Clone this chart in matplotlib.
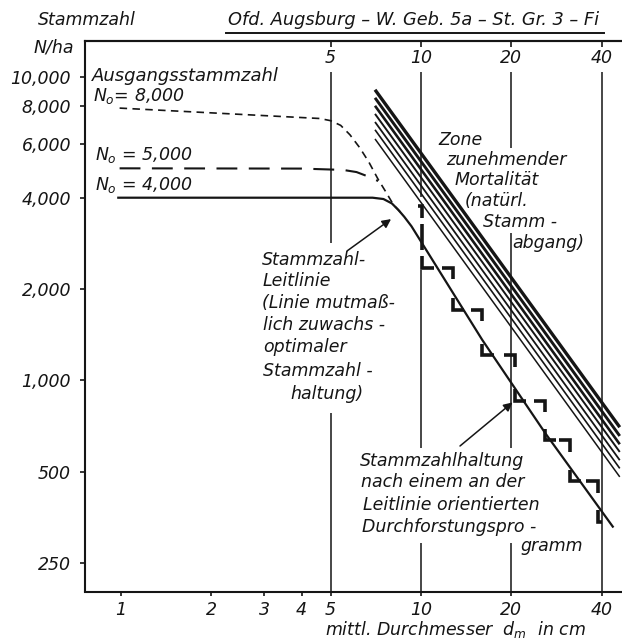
import numpy as np
import matplotlib
matplotlib.use("Agg")
import matplotlib.pyplot as plt
from matplotlib.lines import Line2D
from matplotlib.ticker import FixedLocator, FixedFormatter, NullLocator

# ---------------------------------------------------------------------------
# values
# ---------------------------------------------------------------------------
y_ticks = [250, 500, 1000, 2000, 4000, 6000, 8000, 10000]
y_labels = ["250", "500", "1,000", "2,000", "4,000", "6,000", "8,000", "10,000"]
x_ticks = [1, 2, 3, 4, 5, 10, 20, 40]
x_top_ticks = [5, 10, 20, 40]

# Stammzahl-Leitlinie, starting from N0 = 4000
leit_d = [0.98, 3.0, 6.9, 7.5, 8.0, 8.4, 8.8, 9.3, 16.0, 26.0, 43.6]
leit_n = [4000, 4000, 4000, 3960, 3830, 3650, 3460, 3220, 1360, 668, 329]

# N0 = 8000 (short dashes)
n8_d = [0.99, 4.6, 5.0, 5.4, 5.8, 6.25, 6.7, 7.2, 7.65, 8.1, 8.6]
n8_n = [7900, 7300, 7180, 6930, 6450, 5850, 5250, 4600, 4170, 3790, 3560]

# N0 = 5000 (long dashes)
n5_d = [0.99, 4.0, 5.5, 6.1, 6.7, 7.2]
n5_n = [5000, 4990, 4940, 4860, 4690, 4540]

# zone of increasing mortality: parallel lines
band_d = [7.03, 46.0]
band_start_n = [9080, 8540, 8040, 7560, 7110, 6700, 6250]
band_end_n = [700, 655, 615, 580, 545, 512, 480]
band_lw = [2.4, 2.1, 1.9, 1.4, 1.3, 1.2, 1.1]

# thinning programme (staircase)
stair_start_d = 9.4
stair_cut_d = [10.1, 12.8, 16.0, 20.6, 25.9, 31.4, 38.8]
stair_n = [3750, 2350, 1710, 1210, 855, 634, 464, 342]
stair_end_d = 42.1

# vertical guide lines (broken where text / curves are)
grid_segments = {
    5: [(10400, 2830), (780, 150)],
    10: [(10400, 4020), (2310, 600), (290, 150)],
    20: [(10400, 5830), (3060, 600), (290, 150)],
    40: [(10400, 150)],
}

# ---------------------------------------------------------------------------
W, H = 622, 641
plt.rcParams["font.family"] = "DejaVu Sans"
plt.rcParams["font.style"] = "italic"
plt.rcParams["mathtext.default"] = "it"
INK = "#151515"

fig = plt.figure(figsize=(W / 100, H / 100), dpi=100)
ax = fig.add_axes([85 / W, 1 - 591.5 / H, 1 - 85 / W, (591.5 - 41) / H])
ax.set_xscale("log")
ax.set_yscale("log")
ax.set_xlim(0.759, 46.8)
ax.set_ylim(201, 13150)

for s in ("left", "bottom", "top"):
    ax.spines[s].set_linewidth(1.5)
    ax.spines[s].set_color(INK)
ax.spines["right"].set_visible(False)

ax.yaxis.set_major_locator(FixedLocator(y_ticks))
ax.yaxis.set_major_formatter(FixedFormatter(y_labels))
ax.yaxis.set_minor_locator(NullLocator())
ax.xaxis.set_major_locator(FixedLocator(x_ticks))
ax.xaxis.set_major_formatter(FixedFormatter([str(v) for v in x_ticks]))
ax.xaxis.set_minor_locator(NullLocator())
ax.tick_params(axis="y", direction="out", length=3.5, width=1.2, pad=6.5,
               labelsize=12.5, colors=INK)
ax.tick_params(axis="x", direction="out", length=3, width=1.2, pad=3.8,
               labelsize=12.5, colors=INK)

sec = ax.secondary_xaxis("top")
sec.xaxis.set_major_locator(FixedLocator(x_top_ticks))
sec.xaxis.set_major_formatter(FixedFormatter([str(v) for v in x_top_ticks]))
sec.xaxis.set_minor_locator(NullLocator())
sec.tick_params(direction="in", length=4, width=1.2, pad=-18.5,
                labelsize=12.5, colors=INK)
sec.spines["top"].set_linewidth(1.5)

# guide lines
for gx, segs in grid_segments.items():
    for top, bot in segs:
        ax.plot([gx, gx], [top, bot], color=INK, lw=1.1, solid_capstyle="butt")

# curves
ax.plot(leit_d, leit_n, color=INK, lw=1.6)
ax.plot(n8_d, n8_n, color=INK, lw=1.2, dashes=(4.5, 3.2))
ax.plot(n5_d, n5_n, color=INK, lw=1.5, dashes=(10, 5.5))

for n0, n1, lw in zip(band_start_n, band_end_n, band_lw):
    ax.plot(band_d, [n0, n1], color=INK, lw=lw, solid_capstyle="butt")

# staircase drawn as corner marks (dashed thinning steps)
sd = [stair_start_d]
for c in stair_cut_d:
    sd += [c, c]
sd.append(stair_end_d)
sn = list(np.repeat(stair_n, 2))
P = np.log10(np.column_stack([sd, sn]))
arm = 0.038
for i in range(1, len(P) - 1):
    a, b, c = P[i - 1], P[i], P[i + 1]
    la, lc = np.linalg.norm(b - a), np.linalg.norm(c - b)
    pa = b - (b - a) / la * min(arm, 0.45 * la)
    pc = b + (c - b) / lc * min(arm, 0.45 * lc)
    seg = 10 ** np.array([pa, b, pc])
    ax.plot(seg[:, 0], seg[:, 1], color=INK, lw=2.6,
            solid_joinstyle="miter", solid_capstyle="butt")
for i in range(len(P) - 1):
    a, b = P[i], P[i + 1]
    L = np.linalg.norm(b - a)
    if L > 0.17:
        u = (b - a) / L
        m = 10 ** np.array([a + u * (arm + 0.02), b - u * (arm + 0.02)])
        ax.plot(m[:, 0], m[:, 1], color=INK, lw=2.6, solid_capstyle="butt")


# ---------------------------------------------------------------------------
# texts
def put(x, y, s, ha="left", size=12.5, **kw):
    fig.text(x / W, 1 - y / H, s, ha=ha, va="center", fontsize=size,
             color=INK, **kw)


put(38, 20, "Stammzahl")
put(74, 48, "N/ha", ha="right")
put(228, 20, "Ofd. Augsburg – W. Geb. 5a – St. Gr. 3 – Fi", size=12.8)
fig.add_artist(Line2D([226 / W, 604 / W], [1 - 33 / H, 1 - 33 / H],
                      transform=fig.transFigure, color=INK, lw=1.4))

put(92, 76, "Ausgangsstammzahl", size=13)
put(93, 96, "$N_o$= 8,000", size=12.5)
put(95, 155, "$N_o$ = 5,000", size=12.5)
put(95, 185, "$N_o$ = 4,000", size=12.5)

zone = [(438, 140, "Zone"), (446, 160, "zunehmender"), (455, 180, "Mortalität"),
        (465, 201, "(natürl."), (483, 222, "Stamm -"), (512, 243, "abgang)")]
for x, y, s in zone:
    put(x, y, s)

leit_txt = [(262, 260, "Stammzahl-"), (263, 281, "Leitlinie"),
            (262, 303, "(Linie mutmaß-"), (263, 325, "lich zuwachs -"),
            (263, 347, "optimaler"), (263, 371, "Stammzahl -"),
            (290, 394, "haltung)")]
for x, y, s in leit_txt:
    put(x, y, s)

prog_txt = [(360, 461, "Stammzahlhaltung"), (361, 482, "nach einem an der"),
            (363, 505, "Leitlinie orientierten"), (362, 527, "Durchforstungspro -"),
            (520, 546, "gramm")]
for x, y, s in prog_txt:
    put(x, y, s)

put(325, 630, "mittl. Durchmesser  $d_m$  in cm")

arrow = dict(arrowstyle="-|>", lw=1.1, color=INK, mutation_scale=13,
             shrinkA=0, shrinkB=0)
ax.annotate("", xy=(7.95, 3400), xytext=(347 / W, 1 - 251 / H),
            textcoords="figure fraction", arrowprops=arrow)
ax.annotate("", xy=(20.2, 845), xytext=(460 / W, 1 - 446 / H),
            textcoords="figure fraction", arrowprops=arrow)

fig.savefig("out.png", dpi=100, facecolor="white")
